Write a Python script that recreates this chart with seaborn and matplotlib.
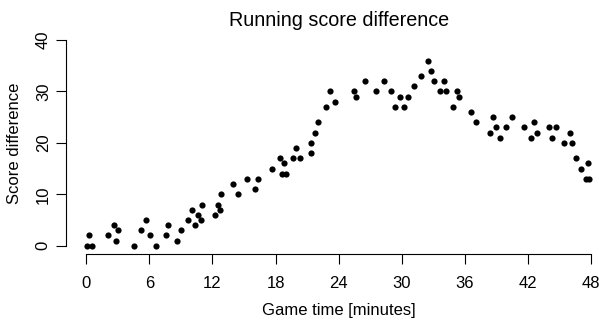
import matplotlib
matplotlib.use("Agg")
import matplotlib.pyplot as plt
import seaborn as sns
import pandas as pd

minutes = [0.04, 0.23, 0.54, 2.04, 2.64, 2.85, 3.04, 4.54, 5.18, 5.65, 6.02, 6.66,
           7.55, 7.75, 8.60, 9.04, 9.65, 10.03, 10.34, 10.6, 10.91, 11.04, 12.25,
           12.56, 12.75, 12.85, 13.99, 14.46, 15.32, 16.05, 16.31, 17.7, 18.46,
           18.65, 18.78, 19.03, 19.67, 19.98, 20.33, 21.38, 21.38, 21.76, 22.07,
           22.78, 23.19, 23.67, 25.5, 25.66, 26.52, 27.56, 28.3, 28.99, 29.37,
           29.85, 30.23, 30.58, 31.21, 31.85, 32.54, 32.8, 33.11, 33.68, 34.0,
           34.2, 34.86, 35.24, 35.46, 36.57, 37.08, 38.44, 38.67, 38.92, 39.39,
           39.87, 40.44, 41.62, 42.31, 42.6, 42.85, 44.05, 44.28, 44.66, 45.39,
           45.96, 46.21, 46.56, 47.04, 47.51, 47.7, 47.82]
score_diff = [0, 2, 0, 2, 4, 1, 3, 0, 3, 5, 2, 0,
              2, 4, 1, 3, 5, 7, 4, 6, 5, 8, 6,
              8, 7, 10, 12, 10, 13, 11, 13, 15, 17,
              14, 16, 14, 17, 19, 17, 18, 20, 22, 24,
              27, 30, 28, 30, 29, 32, 30, 32, 30, 27,
              29, 27, 29, 31, 33, 36, 34, 32, 30, 32,
              30, 27, 30, 29, 26, 24, 22, 25, 23, 21,
              23, 25, 23, 21, 24, 22, 23, 21, 23, 20,
              22, 20, 17, 15, 13, 16, 13]
x_ticks = [0, 6, 12, 18, 24, 30, 36, 42, 48]
y_ticks = [0, 10, 20, 30, 40]

sns.set_style("white")
plt.rcParams['font.family'] = ['Liberation Sans', 'DejaVu Sans']
plt.rcParams['text.color'] = 'black'

W, H = 599, 322
fig = plt.figure(figsize=(W / 100, H / 100), dpi=100)
x0, x1 = 86.3, 591.0
y0, y1 = 245.7, 40.0
ax = fig.add_axes([x0 / W, (H - y0) / H, (x1 - x0) / W, (y0 - y1) / H])

df = pd.DataFrame({"minutes": minutes, "score_diff": score_diff})
sns.scatterplot(data=df, x="minutes", y="score_diff", ax=ax, color="black",
                s=20, linewidth=0, clip_on=False, legend=False)

ax.set_xlim(0, 48)
ax.set_ylim(0, 40)
ax.set_xticks(x_ticks)
ax.set_yticks(y_ticks)
ax.set_xticklabels([str(v) for v in x_ticks])
ax.set_yticklabels([str(v) for v in y_ticks])
ax.set_xlabel("")
ax.set_ylabel("")

for s in ["top", "right"]:
    ax.spines[s].set_visible(False)
ax.spines["left"].set_position(("outward", (x0 - 65.7) * 0.72))
ax.spines["bottom"].set_position(("outward", (254.0 - y0) * 0.72))
ax.spines["left"].set_bounds(0, 40)
ax.spines["bottom"].set_bounds(0, 48)
for s in ["left", "bottom"]:
    ax.spines[s].set_color("black")
    ax.spines[s].set_linewidth(0.8)

ax.tick_params(axis="both", direction="out", length=7.2, width=0.8,
               colors="black", labelcolor="black", labelsize=12,
               bottom=True, left=True)
ax.tick_params(axis="x", pad=8.3)
ax.tick_params(axis="y", pad=3.5, labelrotation=90)
for lbl in ax.get_yticklabels():
    lbl.set_verticalalignment("center")

fig.text(338.6 / W, 1 - 20 / H, "Running score difference", ha="center",
         va="center", fontsize=14.2, color="black")
fig.text(338.6 / W, 1 - 311 / H, "Game time [minutes]", ha="center",
         va="center", fontsize=12, color="black")
fig.text(15 / W, 1 - 143 / H, "Score difference", ha="center", va="center",
         rotation=90, fontsize=12, color="black")

fig.savefig("out.png", dpi=100)
